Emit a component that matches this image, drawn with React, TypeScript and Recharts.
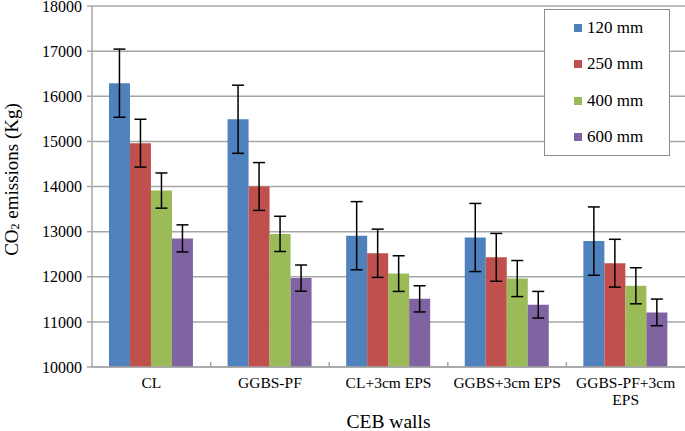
import React from 'react';
import { BarChart, Bar, XAxis, YAxis, CartesianGrid, Legend, ErrorBar, Text } from 'recharts';

const categories = ['CL', 'GGBS-PF', 'CL+3cm EPS', 'GGBS+3cm EPS', 'GGBS-PF+3cm EPS'];
const mm120 = [16290, 15490, 12910, 12870, 12790];
const mm250 = [14960, 14000, 12520, 12430, 12300];
const mm400 = [13910, 12950, 12070, 11960, 11800];
const mm600 = [12850, 11970, 11510, 11380, 11210];
const err120 = [755, 755, 755, 755, 757];
const err250 = [530, 530, 535, 530, 530];
const err400 = [390, 390, 395, 400, 400];
const err600 = [300, 290, 290, 295, 295];
const yTicks = [10000, 11000, 12000, 13000, 14000, 15000, 16000, 17000, 18000];

const series = [
    { key: 'mm120', err: 'err120', name: '120 mm', color: '#4F81BD' },
    { key: 'mm250', err: 'err250', name: '250 mm', color: '#C0504D' },
    { key: 'mm400', err: 'err400', name: '400 mm', color: '#9BBB59' },
    { key: 'mm600', err: 'err600', name: '600 mm', color: '#8064A2' },
];

const data = categories.map((name, i) => ({
    name,
    mm120: mm120[i], err120: err120[i],
    mm250: mm250[i], err250: err250[i],
    mm400: mm400[i], err400: err400[i],
    mm600: mm600[i], err600: err600[i],
}));

const FONT = '"Liberation Serif", "Times New Roman", serif';
const GRID = '#A6A6A6';

const XTick = (props: any) => {
    const { x, y, payload, width, visibleTicksCount, index } = props;
    const band = width / visibleTicksCount;
    return (
        <g>
            {index < visibleTicksCount - 1 && (
                <line x1={x + band / 2} x2={x + band / 2} y1={y - 5} y2={y} stroke={GRID} strokeWidth={1.5} />
            )}
            <Text
                x={x}
                y={y + 10}
                width={band - 6}
                textAnchor="middle"
                verticalAnchor="start"
                lineHeight={17}
                fontSize={15.5}
                fontFamily={FONT}
                fill="#000"
            >
                {payload.value}
            </Text>
        </g>
    );
};

const LegendBox = () => (
    <div
        style={{
            width: 124,
            height: 145,
            border: '1px solid #8C8C8C',
            background: '#fff',
            fontFamily: FONT,
            fontSize: 17,
            color: '#000',
        }}
    >
        {series.map(s => (
            <div key={s.key} style={{ height: 36.25, display: 'flex', alignItems: 'center', paddingLeft: 29 }}>
                <span style={{ width: 8, height: 8, background: s.color, marginRight: 5, display: 'inline-block' }} />
                <span>{s.name}</span>
            </div>
        ))}
    </div>
);

const App: React.FC = () => {
    return (
        <div style={{ position: 'absolute', left: 0, top: 0, width: 685, height: 431, background: '#fff' }}>
            <BarChart
                width={685}
                height={431}
                data={data}
                margin={{ top: 6, right: 0, left: 0, bottom: 0 }}
                barCategoryGap="14.3%"
                barGap={0}
            >
                <CartesianGrid vertical={false} stroke={GRID} strokeWidth={1.5} />
                <XAxis
                    dataKey="name"
                    height={64}
                    tickSize={0}
                    tickMargin={0}
                    interval={0}
                    axisLine={{ stroke: GRID, strokeWidth: 1.5 }}
                    tick={<XTick />}
                    label={{
                        content: ({ viewBox }: any) => (
                            <text
                                x={viewBox.x + viewBox.width / 2}
                                y={viewBox.y + 61}
                                textAnchor="middle"
                                style={{ fontSize: 19.5, fontFamily: FONT }}
                                fill="#000"
                            >
                                CEB walls
                            </text>
                        ),
                    }}
                />
                <YAxis
                    width={92}
                    domain={[10000, 18000]}
                    ticks={yTicks}
                    interval={0}
                    tickSize={5}
                    tickMargin={5}
                    axisLine={{ stroke: GRID, strokeWidth: 1.5 }}
                    tickLine={{ stroke: GRID, strokeWidth: 1.5 }}
                    tick={{ fontSize: 16, fontFamily: FONT, fill: '#000' }}
                    label={{
                        content: ({ viewBox }: any) => {
                            const cx = 11;
                            const cy = viewBox.y + viewBox.height / 2 - 7;
                            return (
                                <text
                                    transform={`translate(${cx},${cy}) rotate(-90)`}
                                    textAnchor="middle"
                                    dominantBaseline="central"
                                    style={{ fontSize: 19, fontFamily: FONT }}
                                    fill="#000"
                                >
                                    <tspan>CO</tspan>
                                    <tspan dy={4} style={{ fontSize: 12 }}>2</tspan>
                                    <tspan dy={-4}> emissions (Kg)</tspan>
                                </text>
                            );
                        },
                    }}
                />
                <Legend
                    layout="horizontal"
                    verticalAlign="middle"
                    align="center"
                    wrapperStyle={{ position: 'absolute', left: 544, top: 9, width: 126, height: 147 }}
                    content={() => <LegendBox />}
                />
                {series.map(s => (
                    <Bar key={s.key} dataKey={s.key} name={s.name} fill={s.color} isAnimationActive={false}>
                        <ErrorBar dataKey={s.err} width={6} stroke="#000" strokeWidth={1.5} />
                    </Bar>
                ))}
            </BarChart>
        </div>
    );
};

export default App;
